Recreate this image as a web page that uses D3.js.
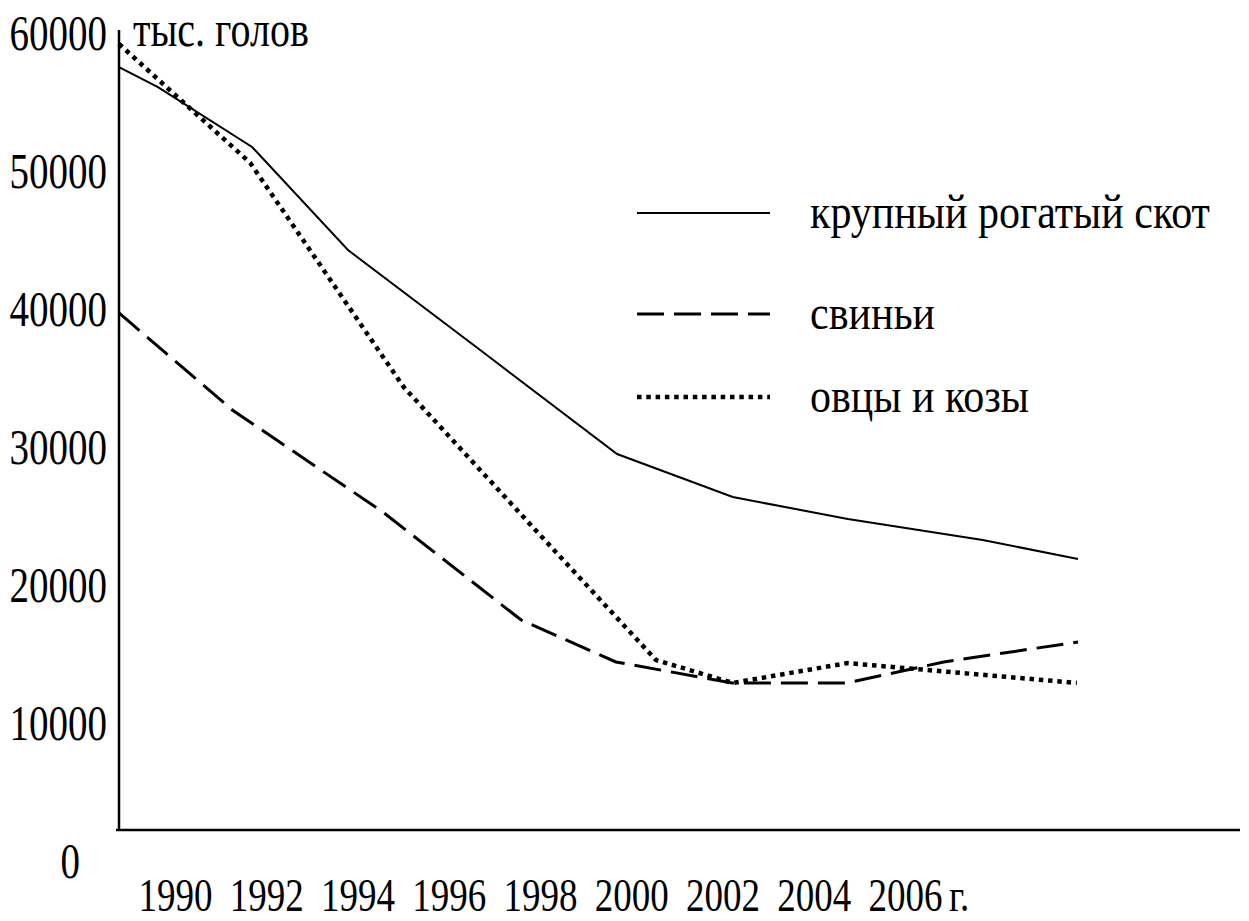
<!DOCTYPE html>
<html>
<head>
<meta charset="utf-8">
<script src="https://cdnjs.cloudflare.com/ajax/libs/d3/7.8.5/d3.min.js"></script>
<style>
  body { margin: 0; background: #fff; }
  svg text { font-family: "Liberation Serif", "Times New Roman", serif; fill: #000; }
</style>
</head>
<body>
<svg id="chart" width="1249" height="921"></svg>
<script>
// values (тыс. голов); years are where the hand-drawn vertices sit
var cattleYears = [1990, 1990.65, 1992.22, 1993.82, 1996.07, 1998.31, 2000.24, 2002.16, 2004.41, 2006];
var cattle      = [57460, 56010, 51670, 44200, 36810, 29420, 26300, 24710, 23190, 21810];

var pigsYears = [1990, 1991.89, 1994.40, 1996.71, 1998.29, 2000.23, 2002.15, 2003.76, 2006];
var pigs      = [39640, 32610, 25220, 17390, 14350, 12830, 12830, 14350, 15800];

var sheepYears = [1990, 1992.19, 1994.75, 1997.04, 1998.96, 2000.24, 2002.15, 2005.98];
var sheep      = [59130, 50510, 34270, 23480, 14490, 12830, 14270, 12830];

var yearTicks  = [1990, 1992, 1994, 1996, 1998, 2000, 2002, 2004, 2006];
var valueTicks = [0, 10000, 20000, 30000, 40000, 50000, 60000];
var seriesNames = ["крупный рогатый скот", "свиньи", "овцы и козы"];

var svg = d3.select("#chart");

// data scale and the (offset) label scales of the original drawing
var x = d3.scaleLinear().domain([1990, 2006]).range([119, 1078]);
var xLabel = d3.scaleLinear().domain([1990, 2006]).range([175, 905]);
var y = d3.scaleLinear().domain([0, 60000]).range([860, 32]);

var styles = [
  { width: 2, dash: null },
  { width: 3, dash: "27,10" },
  { width: 4.5, dash: "4.5,4.8" }
];

// axis lines
svg.append("line")
  .attr("x1", 119).attr("x2", 119).attr("y1", 30).attr("y2", 831)
  .attr("stroke", "#000").attr("stroke-width", 2.5);
svg.append("line")
  .attr("x1", 116).attr("x2", 1240).attr("y1", 830).attr("y2", 830)
  .attr("stroke", "#000").attr("stroke-width", 2.5);

// y tick labels (the original font is stretched vertically)
var gy = svg.append("g")
  .attr("transform", "translate(119,0)")
  .call(d3.axisLeft(y).tickValues(valueTicks).tickSize(0).tickPadding(12).tickFormat(d3.format("d")));
gy.select(".domain").remove();
gy.attr("font-family", null).attr("font-size", null);
gy.selectAll("text")
  .style("font-size", "39px")
  .attr("dy", "0.34em")
  .attr("transform", "scale(1,1.3)");
gy.selectAll(".tick").filter(function(d) { return d === 0; })
  .select("text").attr("x", -39);

// x tick labels
var gx = svg.append("g")
  .attr("transform", "translate(0,911)")
  .call(d3.axisBottom(xLabel).tickValues(yearTicks).tickSize(0).tickFormat(d3.format("d")));
gx.select(".domain").remove();
gx.attr("font-family", null).attr("font-size", null);
gx.selectAll("text")
  .attr("y", 0).attr("dy", 0)
  .style("font-size", "37px")
  .attr("transform", "scale(1,1.25)");

svg.append("text")
  .attr("transform", "translate(" + (xLabel(2006) + 44) + ",911) scale(1,1.25)")
  .style("font-size", "37px")
  .text("г.");

svg.append("text")
  .attr("transform", "translate(133,46) scale(1,1.25)")
  .style("font-size", "40px")
  .text("тыс. голов");

// series lines
var series = [
  d3.zip(cattleYears, cattle),
  d3.zip(pigsYears, pigs),
  d3.zip(sheepYears, sheep)
];

var line = d3.line()
  .x(function(d) { return x(d[0]); })
  .y(function(d) { return y(d[1]); });

series.forEach(function(s, i) {
  svg.append("path")
    .datum(s)
    .attr("d", line)
    .attr("fill", "none")
    .attr("stroke", "#000")
    .attr("stroke-width", styles[i].width)
    .attr("stroke-dasharray", styles[i].dash)
    .attr("stroke-linejoin", "miter");
});

// legend
var legendY = [213, 314, 397];
var legend = svg.selectAll(".legend")
  .data(seriesNames)
  .enter().append("g")
  .attr("class", "legend")
  .attr("transform", function(d, i) { return "translate(0," + legendY[i] + ")"; });

legend.append("line")
  .attr("x1", 637).attr("x2", 770)
  .attr("stroke", "#000")
  .attr("stroke-width", function(d, i) { return styles[i].width; })
  .attr("stroke-dasharray", function(d, i) { return styles[i].dash; });

legend.append("text")
  .attr("transform", "translate(810,15) scale(1,1.15)")
  .style("font-size", "42px")
  .text(function(d) { return d; });
</script>
</body>
</html>
